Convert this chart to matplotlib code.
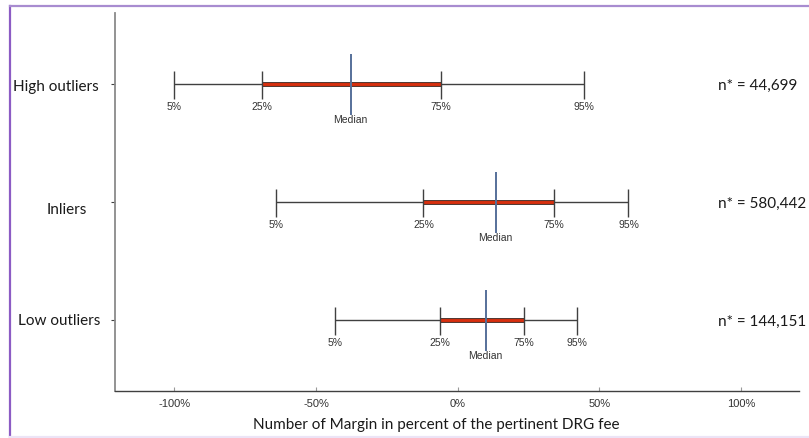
import matplotlib
matplotlib.use("Agg")
import matplotlib.pyplot as plt
from matplotlib.lines import Line2D

# ---- data ----
categories = ["Low outliers", "Inliers", "High outliers"]
p5 = [-43.2, -64.0, -100.0]
p25 = [-6.4, -12.1, -69.0]
median = [9.9, 13.4, -37.8]
p75 = [23.4, 34.0, -5.8]
p95 = [42.2, 60.3, 44.5]
n_labels = ["n* = 144,151", "n* = 580,442", "n* = 44,699"]
xticks = [-100, -50, 0, 50, 100]
xticklabels = ["-100%", "-50%", "0%", "50%", "100%"]
pct_names = ["5%", "25%", "75%", "95%"]

W, H = 809, 439
fig = plt.figure(figsize=(W / 100, H / 100), dpi=100)
ax = fig.add_axes([115 / W, (H - 392) / H, (799 - 115) / W, (392 - 14) / H])

humanist = ["Lato", "DejaVu Sans"]
arial = ["Liberation Sans", "DejaVu Sans"]

whisk_col = "#404040"
med_col = "#56709A"

for i, cat in enumerate(categories):
    y = i
    ax.hlines(y, p5[i], p95[i], color=whisk_col, lw=1.0, zorder=2)
    ax.hlines(y, p25[i], p75[i], color="#2a0800", lw=3.3, zorder=3)
    ax.hlines(y, p25[i], p75[i], color="#D8300F", lw=2.1, zorder=4)
    vals = [p5[i], p25[i], p75[i], p95[i]]
    for v, nm in zip(vals, pct_names):
        ax.vlines(v, y - 0.125, y + 0.11, color=whisk_col, lw=1.0, zorder=5)
        ax.annotate(nm, (v, y), xytext=(0, -22), textcoords="offset pixels",
                    ha="center", va="center", fontsize=7.5, family=arial, color="#333333")
    ax.vlines(median[i], y - 0.26, y + 0.255, color=med_col, lw=1.4, zorder=6)
    ax.annotate("Median", (median[i], y), xytext=(0, -35), textcoords="offset pixels",
                ha="center", va="center", fontsize=7.5, family=arial, color="#333333")
    ax.annotate(n_labels[i], (91.9, y), xytext=(0, -1), textcoords="offset pixels",
                ha="left", va="center", fontsize=11, family=humanist, color="#1a1a1a")

ax.set_xlim(-121, 120.5)
ax.set_ylim(-0.6, 2.6)

ax.set_xticks(xticks)
ax.set_xticklabels(xticklabels, family=arial, fontsize=8, color="#333333")
ax.tick_params(axis="x", direction="in", length=3, color="#999999", pad=5)

ax.set_yticks(range(len(categories)))
ax.set_yticklabels([])
ax.tick_params(axis="y", direction="out", length=3, color="#404040")

label_centers = [59, 67, 56]
label_dy = [0, -7, -2]
for i, cat in enumerate(categories):
    ax.annotate(cat, (0, i), xycoords=("figure pixels", "data"),
                xytext=(label_centers[i], label_dy[i]), textcoords="offset pixels",
                ha="center", va="center", fontsize=11, family=humanist, color="#1a1a1a")

for s in ["top", "right"]:
    ax.spines[s].set_visible(False)
ax.spines["left"].set_color("#8a8a8a")
ax.spines["left"].set_linewidth(1.3)
ax.spines["bottom"].set_color("#404040")
ax.spines["bottom"].set_linewidth(1.0)

ax.set_xlabel("Number of Margin in percent of the pertinent DRG fee",
              family=humanist, fontsize=11, color="#1a1a1a")
ax.xaxis.set_label_coords(0.47, -0.07)

# figure frame
fig.add_artist(Line2D([9.5 / W, 9.5 / W], [0, (H - 7) / H], transform=fig.transFigure,
                      color="#8C5CC4", lw=1.6))
fig.add_artist(Line2D([9.5 / W, 1], [(H - 7) / H, (H - 7) / H], transform=fig.transFigure,
                      color="#A88CD0", lw=1.6))
fig.add_artist(Line2D([9.5 / W, 1], [1.5 / H, 1.5 / H], transform=fig.transFigure,
                      color="#ECE4F6", lw=1.6))

fig.savefig("out.png", dpi=100)
